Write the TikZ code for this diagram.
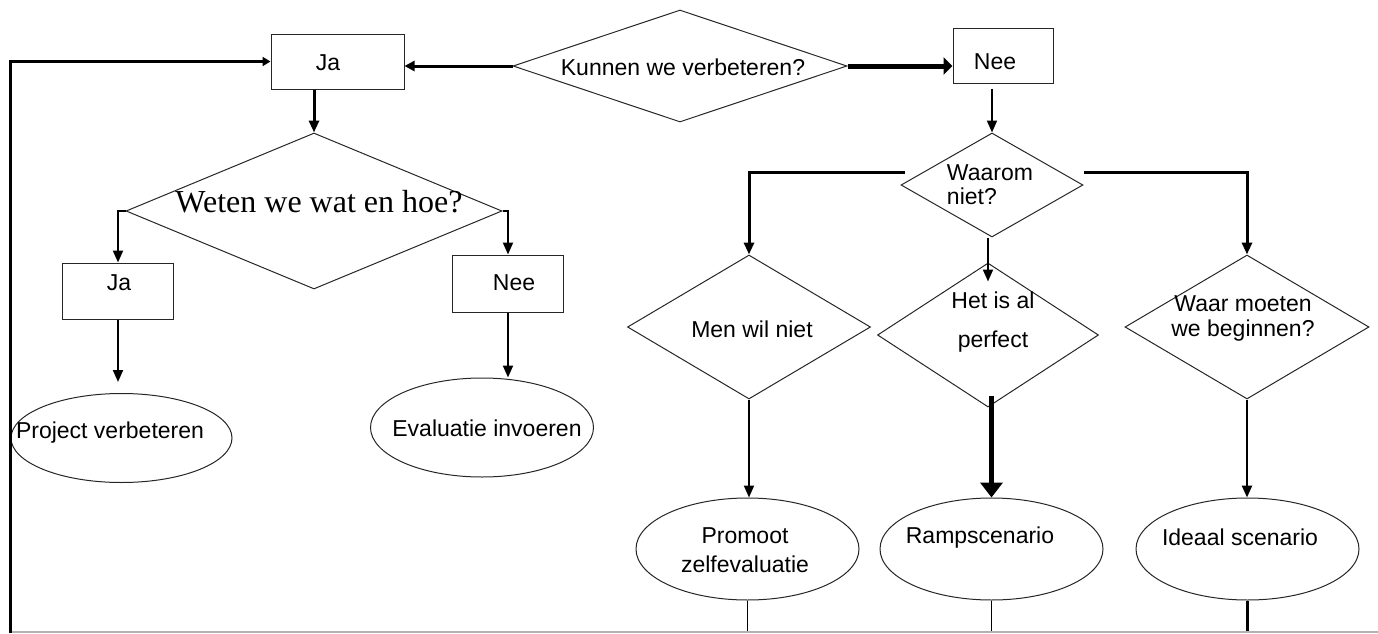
\documentclass[tikz,border=0pt]{standalone}
\usepackage{fontspec}
\setmainfont{Liberation Sans}
\newfontfamily\serifdiag{Liberation Serif}
\usetikzlibrary{shapes.geometric,arrows.meta}

\begin{document}
\begin{tikzpicture}[x=0.5pt,y=-0.5pt,
  shp/.style={draw=black!85,line width=0.5pt,inner sep=0pt},
  blok/.style={shp,rectangle},
  ruit/.style={shp,diamond},
  ovaal/.style={shp,ellipse},
  txt/.style={inner sep=0pt,align=center,font=\fontsize{11.5}{12.5}\selectfont},
  pijl/.style={-{Triangle[length=6pt,width=5pt]},line width=1pt}]
\useasboundingbox (0,0) rectangle (1378,633);
%\draw[step=50,gray,very thin] (0,0) grid (1378,633); %background grid
\coordinate (bot) at (0,633);
\coordinate (lus) at (10,633);
%---------------------------------------------------
\node[ruit,minimum width=167pt,minimum height=56pt] (kun) at (680,66) {};
\node[blok,minimum width=66.5pt,minimum height=27.5pt] (ja1) at (337.5,61.5) {};
\node[blok,minimum width=50pt,minimum height=27.5pt] (nee1) at (1003,55.5) {};
\node[txt] (t-kun) at (683,67) {Kunnen we verbeteren?};
\node[txt] (t-ja1) at (328,63) {Ja};
\node[txt] (t-nee1) at (995,62) {Nee};
%---------------------------------------------------
\node[ruit,minimum width=188pt,minimum height=78pt] (wet) at (314,211) {};
\node[blok,minimum width=55.5pt,minimum height=28pt] (ja2) at (118,291) {};
\node[blok,minimum width=55.5pt,minimum height=28.5pt] (nee2) at (508,283.5) {};
\node[ovaal,minimum width=110.5pt,minimum height=44.5pt] (proj) at (121.5,438) {};
\node[ovaal,minimum width=111.5pt,minimum height=49.5pt] (eva) at (482,427.5) {};
\node[txt,font=\serifdiag\fontsize{16}{18}\selectfont] (t-wet) at (319,202) {Weten we wat en hoe?};
\node[txt] (t-ja2) at (119,283) {Ja};
\node[txt] (t-nee2) at (514,283) {Nee};
\node[txt] (t-proj) at (110,433) {Project verbeteren};
\node[txt] (t-eva) at (487,428) {Evaluatie invoeren};
%---------------------------------------------------
\node[ruit,minimum width=91pt,minimum height=52pt] (wrm) at (992,185) {};
\node[ruit,minimum width=121.5pt,minimum height=72pt] (men) at (749,327) {};
\node[ruit,minimum width=110.5pt,minimum height=72pt] (het) at (988,335) {};
\node[ruit,minimum width=122pt,minimum height=72pt] (waar) at (1247,327) {};
\node[ovaal,minimum width=111.5pt,minimum height=51pt] (prom) at (747.5,549) {};
\node[ovaal,minimum width=111.5pt,minimum height=51pt] (ramp) at (991.5,549) {};
\node[ovaal,minimum width=111.5pt,minimum height=51pt] (ideaal) at (1247.5,549) {};
\node[txt,align=left,font=\fontsize{11.5}{12}\selectfont] (t-wrm) at (990,185) {Waarom\\niet?};
\node[txt] (t-men) at (752,329) {Men wil niet};
\node[txt,font=\fontsize{11.5}{19.5}\selectfont] (t-het) at (993,322) {Het is al\\perfect};
\node[txt] (t-waar) at (1243,318) {Waar moeten\\we beginnen?};
\node[txt,font=\fontsize{11.5}{14.5}\selectfont] (t-prom) at (745,550) {Promoot\\zelfevaluatie};
\node[txt] (t-ramp) at (980,538) {Rampscenario};
\node[txt] (t-ideaal) at (1240,537) {Ideaal scenario};
%---------------------------------------------------
\draw[line width=1.5pt,-{Triangle[length=4pt,width=4.5pt]}] (lus) |- (ja1.west);
\draw[line width=1.5pt,-{Triangle[length=5pt,width=5pt]}] (kun.west) -- (kun.west -| ja1.east);
\draw[line width=2.5pt,-{Triangle[length=4.5pt,width=8.5pt]}] (kun.east) -- (kun.east -| nee1.west);
\draw[pijl,line width=1.5pt] (ja1.south -| wet.north) -- (wet.north);
\draw[pijl] (wet.west) -| (ja2.north);
\draw[pijl] (wet.east) -| (nee2.north);
\draw[pijl,shorten >=5.5pt] (ja2.south) -- (ja2.south |- proj.north);
\draw[pijl] (nee2.south) -- (nee2.south |- eva.north);
%---------------------------------------------------
\draw[pijl,shorten <=2.5pt] (wrm.north |- nee1.south) -- (wrm.north);
\draw[pijl,line width=1.5pt] ([xshift=2pt,yshift=6.5pt]wrm.west) -| (men.north);
\draw[pijl,line width=1.5pt] ([yshift=6.5pt]wrm.east) -| (waar.north);
\draw[pijl] (wrm.south -| het.north) -- ([yshift=-9.5pt]het.north);
\draw[pijl] (men.south) -- (men.south |- prom.north);
\draw[line width=2.5pt,-{Triangle[length=7.5pt,width=11pt]}] ([yshift=6pt]het.south -| ramp.north) -- (ramp.north);
\draw[pijl,line width=1.2pt] (waar.south) -- (waar.south |- ideaal.north);
%---------------------------------------------------
\draw[line width=0.5pt] (prom.south) -- (prom.south |- bot);
\draw[line width=0.5pt] (ramp.south) -- (ramp.south |- bot);
\draw[line width=1.5pt] (ideaal.south) -- (ideaal.south |- bot);
\draw[gray!60,line width=0.6pt] (12,632) -- (1378,632);
\end{tikzpicture}
\end{document}
